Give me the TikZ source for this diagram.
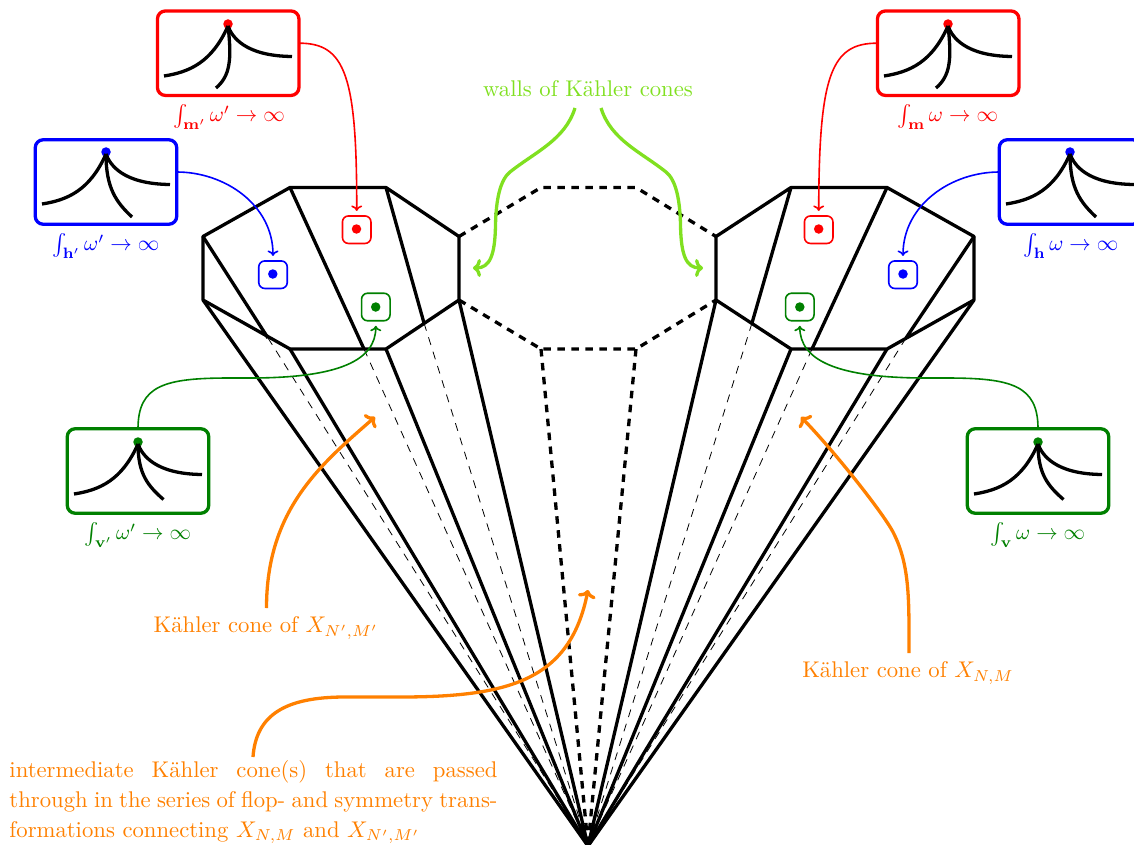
\documentclass[tikz,border=0pt]{standalone}
\usetikzlibrary{arrows.meta,calc}
\definecolor{myred}{RGB}{255,0,0}
\definecolor{myblue}{RGB}{0,0,255}
\definecolor{mygreen}{RGB}{0,128,0}
\definecolor{myorange}{RGB}{255,128,0}
\definecolor{mylime}{RGB}{128,224,32}
\tikzset{
  solidedge/.style={line width=3.3pt,line join=round,black},
  dashedge/.style={line width=3.3pt,dash pattern=on 7.5pt off 6.5pt,black},
  thindash/.style={line width=0.8pt,dash pattern=on 8pt off 7pt,black},
  bigbox/.style={draw=#1,line width=3.3pt,rounded corners=8pt,minimum width=141.5pt,minimum height=84.5pt,inner sep=0pt,outer sep=0pt,fill=white},
  smallbox/.style={draw=#1,line width=1.6pt,rounded corners=6pt,minimum width=28.5pt,minimum height=27.5pt,inner sep=0pt,outer sep=0pt,fill=white},
  bigdot/.style={circle,fill=#1,inner sep=0pt,outer sep=0pt,minimum size=9.5pt},
  lab/.style={text=#1,scale=2.27,font=\fontsize{10}{13.2}\selectfont,inner sep=0pt},
  intlab/.style={text=#1,scale=2.15,font=\fontsize{10}{13.2}\selectfont,inner sep=0pt},
  thinarrow/.style={draw=#1,line width=1.6pt,-{Computer Modern Rightarrow[length=5.5pt,width=11pt]},shorten >=5pt},
  fatarrow/.style={draw=#1,line width=3.3pt,-{Computer Modern Rightarrow[length=8pt,width=18pt]}},
  curveline/.style={line width=3.3pt,black}
}
\newcommand{\minicurves}[3]{%
  \draw[curveline] (#1) .. controls ($(#1)+(-16,36)$) and ($(#1)+(-38,46)$) .. ($(#1)+(-64,50)$);
  \draw[curveline] (#1) .. controls ($(#1)+(4,11)$) and ($(#1)+(17,30)$) .. ($(#1)+(64,30.5)$);
  \draw[curveline] (#1) .. #3 .. ($(#1)+(#2)$);
}
\begin{document}
\begin{tikzpicture}[x=1pt,y=-1pt]
\useasboundingbox (0,0) rectangle (1134,845);
\coordinate (apex) at (588,846);
% left polygon
\coordinate (la) at (203,236.5);
\coordinate (lb) at (290,187.5);
\coordinate (lc) at (386,187.5);
\coordinate (ld) at (459,236.5);
\coordinate (le) at (459,300);
\coordinate (lf) at (386,349);
\coordinate (lg) at (290,349);
\coordinate (lh) at (203,300);
\coordinate (lx) at (268,338);
\coordinate (ly) at (364,349);
\coordinate (lz) at (424,323);
% right polygon
\coordinate (ra) at (716,236.5);
\coordinate (rb) at (791,187.5);
\coordinate (rc) at (887,187.5);
\coordinate (rd) at (974,236.5);
\coordinate (re) at (974,300);
\coordinate (rf) at (887,349);
\coordinate (rg) at (791,349);
\coordinate (rh) at (716,300);
\coordinate (rx) at (752,323);
\coordinate (ry) at (812,349);
\coordinate (rz) at (906,338);
% walls
\coordinate (ma) at (541,187.5);
\coordinate (mb) at (636,187.5);
\coordinate (mc) at (541,349);
\coordinate (md) at (636,349);
% thin dashed continuation
\foreach \p in {lx,ly,lz,rx,ry,rz} \draw[thindash] (\p) -- (apex);
% dashed wall
\draw[dashedge] (ld) -- (ma) -- (mb) -- (ra);
\draw[dashedge] (le) -- (mc) -- (md) -- (rh);
\draw[dashedge] (mc) -- (apex);
\draw[dashedge] (md) -- (apex);
% solid cones
\draw[solidedge] (la) -- (lb) -- (lc) -- (ld) -- (le) -- (lf) -- (lg) -- (lh) -- cycle;
\draw[solidedge] (ra) -- (rb) -- (rc) -- (rd) -- (re) -- (rf) -- (rg) -- (rh) -- cycle;
\draw[solidedge] (la) -- (lx);
\draw[solidedge] (lb) -- (ly);
\draw[solidedge] (lc) -- (lz);
\draw[solidedge] (rb) -- (rx);
\draw[solidedge] (rc) -- (ry);
\draw[solidedge] (rd) -- (rz);
\foreach \p in {lh,lg,lf,le,rh,rg,rf,re} \draw[solidedge] (\p) -- (apex);
% big boxes
\node[bigbox=myred] (brl) at (228.2,53.2) {};
\node[bigbox=myred] (brr) at (948.2,53.2) {};
\node[bigbox=myblue] (bbl) at (106,182) {};
\node[bigbox=myblue] (bbr) at (1070,182) {};
\node[bigbox=mygreen] (bgl) at (138,471) {};
\node[bigbox=mygreen] (bgr) at (1038,471) {};
% dots of the boxes
\node[bigdot=myred] (drl) at (228,24) {};
\node[bigdot=myred] (drr) at (948,24) {};
\node[bigdot=myblue] (dbl) at (106,152) {};
\node[bigdot=myblue] (dbr) at (1070,152) {};
\node[bigdot=mygreen] (dgl) at (138,442) {};
\node[bigdot=mygreen] (dgr) at (1038,442) {};
\coordinate (crl) at (228,26);
\coordinate (crr) at (948,26);
\coordinate (cbl) at (106,154);
\coordinate (cbr) at (1070,154);
\coordinate (cgl) at (138,444);
\coordinate (cgr) at (1038,444);
\minicurves{crl}{-12,62}{controls ($(crl)+(4,34)$) and ($(crl)+(2,50)$)}
\minicurves{crr}{-12,62}{controls ($(crr)+(4,34)$) and ($(crr)+(2,50)$)}
\minicurves{cbl}{26,63}{controls ($(cbl)+(0,34)$) and ($(cbl)+(10,48)$)}
\minicurves{cbr}{26,63}{controls ($(cbr)+(0,34)$) and ($(cbr)+(10,48)$)}
\minicurves{cgl}{25.5,55.5}{controls ($(cgl)+(0,30)$) and ($(cgl)+(10,42)$)}
\minicurves{cgr}{25.5,55.5}{controls ($(cgr)+(0,30)$) and ($(cgr)+(10,42)$)}
% small boxes
\node[smallbox=myred] (srl) at (356.7,229.7) {};
\node[smallbox=myblue] (sbl) at (273,274.7) {};
\node[smallbox=mygreen] (sgl) at (375.8,307) {};
\node[smallbox=myred] (srr) at (818.7,229.7) {};
\node[smallbox=myblue] (sbr) at (903,274.7) {};
\node[smallbox=mygreen] (sgr) at (799.8,307) {};
\node[bigdot=myred] at (356.5,229) {};
\node[bigdot=myblue] at (272.8,274) {};
\node[bigdot=mygreen] at (375.7,307) {};
\node[bigdot=myred] at (818.7,229) {};
\node[bigdot=myblue] at (903,274) {};
\node[bigdot=mygreen] at (799.8,307) {};
% labels
\node[intlab=myred] (lrl) at (229,117) {$\int_{\mathbf{m}'}\omega'\to\infty$};
\node[intlab=myred] (lrr) at (948,117) {$\int_{\mathbf{m}}\omega\to\infty$};
\node[intlab=myblue] (lbl) at (106,246) {$\int_{\mathbf{h}'}\omega'\to\infty$};
\node[intlab=myblue] (lbr) at (1071,246) {$\int_{\mathbf{h}}\omega\to\infty$};
\node[intlab=mygreen] (lgl) at (138,535) {$\int_{\mathbf{v}'}\omega'\to\infty$};
\node[intlab=mygreen] (lgr) at (1038,535) {$\int_{\mathbf{v}}\omega\to\infty$};
\node[lab=mylime] (walls) at (588,89) {walls of K\"ahler cones};
\node[lab=myorange] (kl) at (266,628) {K\"ahler cone of $X_{N',M'}$};
\node[lab=myorange] (kr) at (908,673) {K\"ahler cone of $X_{N,M}$};
\node[lab=myorange,anchor=north west,text width=215pt,align=justify] (inter) at (9,760) {intermediate K\"ahler cone(s) that are passed\linebreak through in the series of flop- and symmetry trans-\linebreak formations connecting $X_{N,M}$ and $X_{N',M'}$};
% thin connectors
\draw[thinarrow=myred] ([yshift=10pt]brl.east) .. controls (345,43) and (357,75) .. (srl.north);
\draw[thinarrow=myred] ([yshift=10pt]brr.west) .. controls (831,43) and (819,75) .. (srr.north);
\draw[thinarrow=myblue] ([yshift=10pt]bbl.east) .. controls (225,172) and (273,205) .. (sbl.north);
\draw[thinarrow=myblue] ([yshift=10pt]bbr.west) .. controls (951,172) and (903,205) .. (sbr.north);
\coordinate (g1) at (230,378);
\coordinate (g2) at (250,378);
\coordinate (g3) at (946,378);
\coordinate (g4) at (926,378);
\draw[thinarrow=mygreen] (bgl.north) .. controls (138,385) and (165,378) .. (g1) -- (g2) .. controls (340,378) and (375.8,360) .. (sgl.south);
\draw[thinarrow=mygreen] (bgr.north) .. controls (1038,385) and (1011,378) .. (g3) -- (g4) .. controls (836,378) and (799.8,360) .. (sgr.south);
% orange arrows
\coordinate (ol) at (266.5,608);
\coordinate (olt) at (375,417);
\coordinate (or) at (909,653);
\coordinate (or1) at (893,532);
\coordinate (ort) at (801,417);
\coordinate (om) at (253,757);
\coordinate (om1) at (345,697);
\coordinate (om2) at (400,697);
\coordinate (omt) at (588,590);
\draw[fatarrow=myorange] (ol) .. controls (266.5,510) and (320,465) .. (olt);
\draw[fatarrow=myorange] (or) .. controls (909,600) and (910,565) .. (or1) .. controls (883,513) and (835,452) .. (ort);
\draw[fatarrow=myorange] (om) .. controls (256,715) and (285,697) .. (om1) -- (om2) .. controls (510,697) and (570,680) .. (omt);
% lime arrows
\coordinate (wl) at (575,108);
\coordinate (wl1) at (510,172);
\coordinate (wl2) at (495.5,225);
\coordinate (wlt) at (473,268);
\coordinate (wr) at (601,108);
\coordinate (wr1) at (666,172);
\coordinate (wr2) at (680.5,225);
\coordinate (wrt) at (703,268);
\draw[fatarrow=mylime] (wl) .. controls (565,140) and (535,152) .. (wl1) .. controls (500,180) and (496,200) .. (wl2) .. controls (495,255) and (490,268) .. (wlt);
\draw[fatarrow=mylime] (wr) .. controls (611,140) and (641,152) .. (wr1) .. controls (676,180) and (680,200) .. (wr2) .. controls (681,255) and (686,268) .. (wrt);
\end{tikzpicture}
\end{document}
